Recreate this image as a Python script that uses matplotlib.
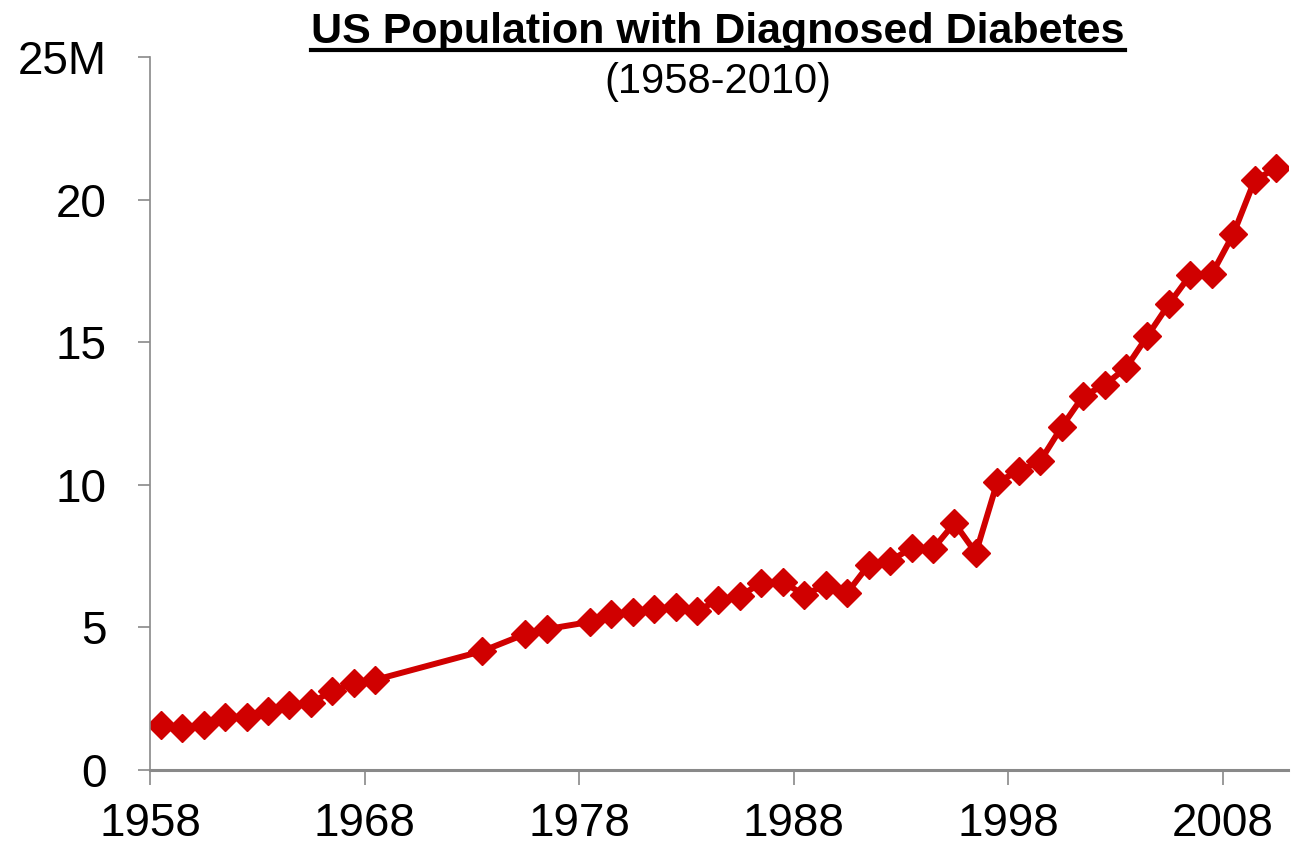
import matplotlib
matplotlib.use('Agg')
import matplotlib.pyplot as plt
from matplotlib.lines import Line2D

plt.rcParams['font.family'] = ['Liberation Sans', 'DejaVu Sans']

########## data (millions of people) ##########
years = [1958, 1959, 1960, 1961, 1962, 1963, 1964, 1965, 1966, 1967, 1968,
         1973, 1975, 1976,
         1978, 1979, 1980, 1981, 1982, 1983, 1984, 1985, 1986, 1987, 1988,
         1989, 1990, 1991, 1992, 1993, 1994, 1995, 1996, 1997, 1998, 1999,
         2000, 2001, 2002, 2003, 2004, 2005, 2006, 2007, 2008, 2009, 2010]
diabetes = [1.58, 1.47, 1.58, 1.86, 1.86, 2.07, 2.28, 2.35, 2.77, 3.05, 3.16,
            4.17, 4.77, 4.94,
            5.19, 5.47, 5.54, 5.65, 5.72, 5.58, 5.96, 6.10, 6.56, 6.59, 6.14,
            6.49, 6.21, 7.19, 7.33, 7.78, 7.75, 8.66, 7.61, 10.10, 10.48, 10.83,
            12.03, 13.11, 13.50, 14.10, 15.22, 16.34, 17.36, 17.39, 18.79, 20.69, 21.10]

x_tick_labels = ['1958', '1968', '1978', '1988', '1998', '2008']
y_tick_labels = ['0', '5', '10', '15', '20', '25M']

red = '#D00000'
grey = '#898989'

fig = plt.figure(figsize=(12.92, 8.48), dpi=100)
ax = fig.add_axes([0.1161, 0.092, 0.8808, 0.8408])

ax.plot(years, diabetes, color=red, lw=4.3, marker='D', ms=14,
        markerfacecolor=red, markeredgecolor=red, solid_joinstyle='round')

ax.set_xlim(1957.5, 2010.55)
ax.set_ylim(0, 25)
ax.set_xticks([int(t) - 0.5 for t in x_tick_labels])
ax.set_xticklabels(x_tick_labels)
ax.set_yticks([0, 5, 10, 15, 20, 25])
ax.set_yticklabels(y_tick_labels)

for s in ['top', 'right']:
    ax.spines[s].set_visible(False)
for s in ['left', 'bottom']:
    ax.spines[s].set_color(grey)
ax.spines['left'].set_linewidth(1.2)
ax.spines['bottom'].set_linewidth(2.2)
ax.tick_params(axis='both', colors=grey, labelcolor='black', labelsize=33,
               width=1.2, direction='out')
ax.tick_params(axis='x', length=11, pad=12)
ax.tick_params(axis='y', length=9, pad=22)

######## title, underlined ########
title = fig.text(0.5557, 0.9493, 'US Population with Diagnosed Diabetes',
                 ha='center', va='baseline', fontsize=31, fontweight='bold')
fig.text(0.5557, 0.8903, '(1958-2010)', ha='center', va='baseline', fontsize=30)

fig.canvas.draw()
bb = title.get_window_extent().transformed(fig.transFigure.inverted())
fig.add_artist(Line2D([bb.x0, bb.x1], [0.941, 0.941], color='black', lw=3,
                      transform=fig.transFigure))

plt.savefig('out.png', dpi=100)
